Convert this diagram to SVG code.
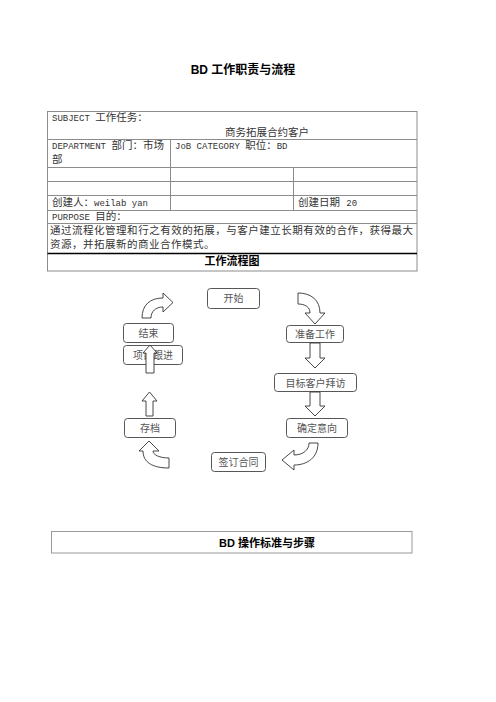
<svg xmlns="http://www.w3.org/2000/svg" width="496" height="702" viewBox="0 0 496 702">
<style>
.bg{fill:#fff}
.tl{stroke:#8c8c8c;stroke-width:1;fill:none}
.t{font-family:"Liberation Mono","Noto Sans CJK SC",monospace;font-size:10.5px;fill:#333}
.lat{font-size:9px}
.h{font-family:"Liberation Sans","Noto Sans CJK SC",sans-serif;font-weight:bold;fill:#000}
.node rect{fill:#fff;stroke:#444;stroke-width:0.9}
.node text{font-family:"Noto Sans CJK SC",sans-serif;font-size:10px;fill:#555;text-anchor:middle}
.arr{fill:#fff;stroke:#333;stroke-width:0.9;stroke-linejoin:miter}
</style>
<rect class="bg" width="496" height="702"/>
<text class="h" x="243" y="74" font-size="12" text-anchor="middle">BD 工作职责与流程</text>
<g id="table">
<rect class="tl" x="47.5" y="111.5" width="369.5" height="159.5"/>
<line class="tl" x1="47.5" y1="139.5" x2="417" y2="139.5"/>
<line class="tl" x1="47.5" y1="167.5" x2="417" y2="167.5"/>
<line class="tl" x1="47.5" y1="181.5" x2="417" y2="181.5"/>
<line class="tl" x1="47.5" y1="195.5" x2="417" y2="195.5"/>
<line class="tl" x1="47.5" y1="210.5" x2="417" y2="210.5"/>
<line class="tl" x1="47.5" y1="223.5" x2="417" y2="223.5"/>
<line x1="47.5" y1="253.5" x2="417" y2="253.5" stroke="#000" stroke-width="1.3"/>
<line class="tl" x1="170.5" y1="139.5" x2="170.5" y2="210.5"/>
<line class="tl" x1="293.5" y1="167.5" x2="293.5" y2="210.5"/>
<text class="t" x="52" y="121"><tspan class="lat">SUBJECT </tspan>工作任务：</text>
<text class="t" x="267" y="136" text-anchor="middle">商务拓展合约客户</text>
<text class="t" x="52" y="149"><tspan class="lat">DEPARTMENT </tspan>部门：市场</text>
<text class="t" x="52" y="163">部</text>
<text class="t" x="175" y="149"><tspan class="lat">JoB CATEGORY </tspan>职位：<tspan class="lat">BD</tspan></text>
<text class="t" x="52" y="206">创建人：<tspan class="lat">weilab yan</tspan></text>
<text class="t" x="298" y="206">创建日期 <tspan class="lat">20</tspan></text>
<text class="t" x="52" y="220"><tspan class="lat">PURPOSE </tspan>目的：</text>
<text class="t" x="50" y="234" textLength="363" lengthAdjust="spacing">通过流程化管理和行之有效的拓展，与客户建立长期有效的合作，获得最大</text>
<text class="t" x="50" y="248" letter-spacing="0.5">资源，并拓展新的商业合作模式。</text>
<text class="h" x="232" y="265" font-size="11" text-anchor="middle">工作流程图</text>
</g>
<g id="start" class="node"><rect x="207.5" y="288.5" width="52" height="20" rx="3"/><text x="233.5" y="302">开始</text></g>
<g id="prep" class="node"><rect x="286.5" y="325.5" width="57" height="17" rx="3"/><text x="315" y="338">准备工作</text></g>
<g id="visit" class="node"><rect x="274.5" y="373.5" width="82" height="18" rx="3"/><text x="315.5" y="386.5">目标客户拜访</text></g>
<g id="confirm" class="node"><rect x="286.5" y="418.5" width="61" height="19" rx="3"/><text x="317" y="432">确定意向</text></g>
<g id="sign" class="node"><rect x="211.5" y="452.5" width="54" height="19" rx="3"/><text x="238.5" y="466">签订合同</text></g>
<g id="archive" class="node"><rect x="124.5" y="418.5" width="51" height="19" rx="3"/><text x="150" y="432">存档</text></g>
<g id="follow" class="node"><rect x="123.5" y="345.5" width="59" height="19" rx="3"/><text x="153" y="359">项目跟进</text></g>
<g id="end" class="node"><rect x="123.5" y="323.5" width="50" height="19" rx="3"/><text x="148.5" y="337">结束</text></g>
<g id="connectors">
<path class="arr" d="M142,318 C142,305 150,298 163,298 L163,293 L173,302.5 L163,312 L163,307 C156,307 151,311 151,318 Z"/>
<path class="arr" d="M298,293 C311,293 320,300 320,313 L325,313 L315,324 L305,313 L310,313 C310,307 305,304 298,304 Z"/>
<path class="arr" d="M310,343 L320,343 L320,358 L325,358 L315,368 L305,358 L310,358 Z"/>
<path class="arr" d="M310,392 L320,392 L320,406 L325,406 L315,416 L305,406 L310,406 Z"/>
<path class="arr" d="M318,443 C318,457 308,465 294,465 L294,470 L282,460 L294,450 L294,455 C303,455 309,450 309,443 Z"/>
<path class="arr" d="M169,468 C152,468 143,462 143,451 L139,451 L149,441 L159,451 L153,451 C153,455 160,458 169,458 Z"/>
<path class="arr" d="M149.5,392 L157,401 L153,401 L153,416 L146,416 L146,401 L142,401 Z"/>
<path class="arr" d="M150,345 L157,353 L154,353 L154,373 L146,373 L146,353 L143,353 Z"/>
</g>
<g id="bottom">
<rect x="51.5" y="531.5" width="360.5" height="21.5" fill="none" stroke="#999" stroke-width="1"/>
<text class="h" x="267" y="547" font-size="11" text-anchor="middle">BD 操作标准与步骤</text>
</g>
</svg>
